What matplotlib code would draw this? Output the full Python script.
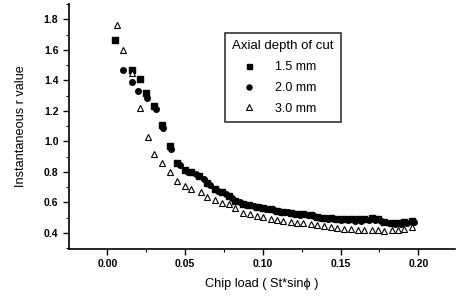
import matplotlib
matplotlib.use('Agg')
import matplotlib.pyplot as plt
from matplotlib.ticker import MultipleLocator

plt.rcParams['font.family'] = ['Liberation Sans', 'DejaVu Sans']

# 1.5 mm axial depth (squares)
x_15 = [0.005, 0.016, 0.021, 0.025, 0.030, 0.035, 0.040, 0.045, 0.050, 0.054,
        0.059, 0.064, 0.069, 0.074, 0.078, 0.082, 0.087, 0.091, 0.096, 0.100,
        0.105, 0.109, 0.113, 0.118, 0.122, 0.126, 0.131, 0.135, 0.139, 0.144,
        0.148, 0.152, 0.157, 0.161, 0.165, 0.170, 0.174, 0.178, 0.183, 0.187,
        0.191, 0.196]
r_15 = [1.667, 1.47, 1.41, 1.32, 1.23, 1.11, 0.967, 0.86, 0.81, 0.80,
        0.77, 0.725, 0.685, 0.665, 0.645, 0.61, 0.587, 0.58, 0.572, 0.565,
        0.555, 0.544, 0.54, 0.533, 0.522, 0.522, 0.515, 0.506, 0.50, 0.495,
        0.492, 0.49, 0.488, 0.49, 0.492, 0.50, 0.488, 0.472, 0.466, 0.466,
        0.472, 0.48]

# 2.0 mm axial depth (circles)
x_20 = [0.010, 0.0155, 0.020, 0.0255, 0.031, 0.036, 0.041, 0.047, 0.052, 0.057,
        0.062, 0.066, 0.071, 0.076, 0.080, 0.085, 0.089, 0.094, 0.098, 0.102,
        0.107, 0.111, 0.116, 0.120, 0.124, 0.129, 0.133, 0.137, 0.142, 0.146,
        0.150, 0.155, 0.159, 0.163, 0.168, 0.172, 0.176, 0.181, 0.185, 0.189,
        0.193, 0.197]
r_20 = [1.47, 1.39, 1.33, 1.285, 1.21, 1.09, 0.95, 0.845, 0.80, 0.785,
        0.755, 0.715, 0.675, 0.655, 0.632, 0.60, 0.582, 0.575, 0.567, 0.558,
        0.549, 0.54, 0.534, 0.527, 0.52, 0.516, 0.508, 0.50, 0.494, 0.49,
        0.486, 0.483, 0.48, 0.48, 0.482, 0.485, 0.476, 0.465, 0.46, 0.46,
        0.465, 0.472]

# 3.0 mm axial depth (triangles)
x_30 = [0.006, 0.010, 0.016, 0.021, 0.026, 0.030, 0.035, 0.040, 0.045, 0.050,
        0.054, 0.060, 0.064, 0.069, 0.074, 0.078, 0.082, 0.087, 0.092, 0.096,
        0.100, 0.105, 0.109, 0.113, 0.118, 0.122, 0.126, 0.131, 0.135, 0.139,
        0.144, 0.148, 0.152, 0.157, 0.161, 0.165, 0.170, 0.174, 0.178, 0.183,
        0.187, 0.191, 0.196]
r_30 = [1.76, 1.60, 1.45, 1.22, 1.03, 0.92, 0.855, 0.80, 0.74, 0.71,
        0.69, 0.67, 0.636, 0.614, 0.598, 0.587, 0.56, 0.533, 0.522, 0.51,
        0.504, 0.489, 0.482, 0.478, 0.471, 0.467, 0.466, 0.456, 0.45, 0.445,
        0.437, 0.432, 0.428, 0.424, 0.421, 0.42, 0.418, 0.416, 0.415, 0.417,
        0.42, 0.428, 0.44]

labels = ['1.5 mm', '2.0 mm', '3.0 mm']

fig = plt.figure(figsize=(4.59, 2.96), dpi=100)
ax = fig.add_axes([0.150, 0.159, 0.841, 0.8275])

ax.plot(x_15, r_15, linestyle='none', marker='s', ms=4, color='black', label=labels[0])
ax.plot(x_20, r_20, linestyle='none', marker='o', ms=4, color='black', label=labels[1])
ax.plot(x_30, r_30, linestyle='none', marker='^', ms=4.5, mfc='white', mec='black',
        mew=0.8, label=labels[2])

ax.set_xlim(-0.0248, 0.2235)
ax.set_ylim(0.295, 1.9)

ax.spines['top'].set_visible(False)
ax.spines['right'].set_visible(False)
for s in ('left', 'bottom'):
    ax.spines[s].set_linewidth(1.2)

ax.xaxis.set_major_locator(MultipleLocator(0.05))
ax.xaxis.set_minor_locator(MultipleLocator(0.025))
ax.yaxis.set_major_locator(MultipleLocator(0.2))
ax.yaxis.set_minor_locator(MultipleLocator(0.1))
ax.tick_params(which='major', direction='out', length=4, width=1, labelsize=7.5)
ax.tick_params(which='minor', direction='out', length=2, width=0.8)
for t in ax.get_xticklabels() + ax.get_yticklabels():
    t.set_fontweight('bold')

ax.set_xlabel('Chip load ( St*sin\u03d5 )', fontsize=9.2, labelpad=6)
ax.set_ylabel('Instantaneous r value', fontsize=9.2, labelpad=12)

leg = ax.legend(title='Axial depth of cut', loc='upper left',
                bbox_to_anchor=(0.404, 0.882), borderaxespad=0,
                fontsize=9, title_fontsize=9.5,
                frameon=True, fancybox=False, alignment='left',
                handlelength=2.6, handletextpad=0.8, borderpad=0.6,
                labelspacing=0.7, markerscale=0.9)
leg.get_frame().set_edgecolor('black')
leg.get_frame().set_linewidth(1.2)

fig.savefig('out.png', dpi=100)
plt.close(fig)
